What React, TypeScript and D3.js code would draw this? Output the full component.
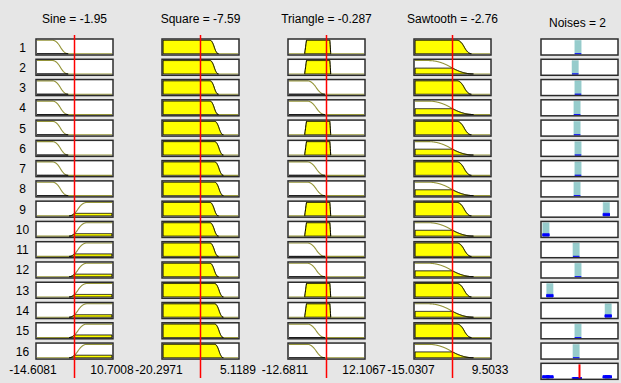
import React from 'react';
import * as d3 from 'd3';

type MF = { type: 'zmf' | 'smf' | 'trapmf'; params: number[] };

// ---- data ----
const inputNames = ['Sine', 'Square', 'Triangle', 'Sawtooth'];
const inputValues = [-1.95, -7.59, -0.287, -2.76];
const inputValueLabels = ['-1.95', '-7.59', '-0.287', '-2.76'];
const inputMins = [-14.6081, -20.2971, -12.6811, -15.0307];
const inputMaxs = [10.7008, 5.1189, 12.1067, 9.5033];
const inputMinLabels = ['-14.6081', '-20.2971', '-12.6811', '-15.0307'];
const inputMaxLabels = ['10.7008', '5.1189', '12.1067', '9.5033'];

const sineMFs: MF[] = [
  { type: 'zmf', params: [-9.35, -4.09] },
  { type: 'smf', params: [-3.76, 2.15] },
];
const squareMFs: MF[] = [
  { type: 'zmf', params: [-4.4, -1.5] },
  { type: 'zmf', params: [-2.8, 0.15] },
];
const triangleMFs: MF[] = [
  { type: 'trapmf', params: [-7.5, -6.9, 0.8, 1.1] },
  { type: 'zmf', params: [-6.6, -0.8] },
];
const sawtoothMFs: MF[] = [
  { type: 'zmf', params: [-1.3, 3.4] },
  { type: 'zmf', params: [-10.57, 4.08] },
];

const ruleNumbers = [1, 2, 3, 4, 5, 6, 7, 8, 9, 10, 11, 12, 13, 14, 15, 16];
const sineRuleMF = [1, 1, 1, 1, 1, 1, 1, 1, 2, 2, 2, 2, 2, 2, 2, 2];
const squareRuleMF = [1, 1, 1, 1, 2, 2, 2, 2, 1, 1, 1, 1, 2, 2, 2, 2];
const triangleRuleMF = [1, 1, 2, 2, 1, 1, 2, 2, 1, 1, 2, 2, 1, 1, 2, 2];
const sawtoothRuleMF = [1, 2, 1, 2, 1, 2, 1, 2, 1, 2, 1, 2, 1, 2, 1, 2];

const outputName = 'Noises';
const outputValue = 2;
const outputValueLabel = '2';
const outputMin = 0;
const outputMax = 4;
const outputCenters = [1.92, 1.77, 1.92, 1.87, 1.87, 1.92, 1.92, 1.87, 3.43, 0.21, 1.82, 1.92, 0.42, 3.53, 1.92, 1.82];
const outputShoulder = 0.17;
const outputFoot = 0.18;

// ---- layout ----
const W = 621;
const H = 383;
const boxLefts = [36, 162, 288, 414, 541];
const boxW = 77;
const FONT = '"Liberation Sans", Arial, sans-serif';
const BG = '#e6e6e6';
const OLIVE = '#95953a';
const CYAN = '#96cccc';

function evalMF(mf: MF, x: number): number {
  const p = mf.params;
  if (mf.type === 'trapmf') {
    const [a, b, c, d] = p;
    return Math.max(0, Math.min((x - a) / (b - a), 1, (d - x) / (d - c)));
  }
  const [a, b] = p;
  let z: number;
  if (x <= a) z = 1;
  else if (x >= b) z = 0;
  else if (x <= (a + b) / 2) z = 1 - 2 * ((x - a) / (b - a)) ** 2;
  else z = 2 * ((b - x) / (b - a)) ** 2;
  return mf.type === 'zmf' ? z : 1 - z;
}

function sampleXs(min: number, max: number, mf: MF): number[] {
  const n = 400;
  const xs = d3.range(n + 1).map((i) => min + ((max - min) * i) / n);
  mf.params.forEach((v) => {
    if (v > min && v < max) xs.push(v);
  });
  return xs.sort((a, b) => a - b);
}

function clippedPoints(xs: number[], mf: MF, level: number, pad = true): [number, number][] {
  const vals = xs.map((x) => evalMF(mf, x));
  let first = vals.findIndex((v) => v > 1e-9);
  if (first < 0) return [];
  let last = vals.length - 1;
  while (last > 0 && vals[last] <= 1e-9) last--;
  if (pad) {
    first = Math.max(0, first - 1);
    last = Math.min(vals.length - 1, last + 1);
  }
  const pts: [number, number][] = [];
  for (let i = first; i <= last; i++) pts.push([xs[i], Math.min(vals[i], level)]);
  return pts;
}

export default function App() {
  const rows = d3
    .scaleBand<number>()
    .domain(d3.range(1, 18))
    .range([39, 39 + 20.27 * (17 - 0.21)])
    .paddingInner(0.21)
    .paddingOuter(0);
  const bh = rows.bandwidth();

  const mfSets = [sineMFs, squareMFs, triangleMFs, sawtoothMFs];
  const ruleIdx = [sineRuleMF, squareRuleMF, triangleRuleMF, sawtoothRuleMF];
  const xScales = inputNames.map((_, j) =>
    d3.scaleLinear().domain([inputMins[j], inputMaxs[j]]).range([boxLefts[j] + 1, boxLefts[j] + boxW - 1])
  );
  const outX = d3.scaleLinear().domain([outputMin, outputMax]).range([boxLefts[4] + 1, boxLefts[4] + boxW - 1]);

  const degrees = inputNames.map((_, j) =>
    ruleNumbers.map((_, r) => evalMF(mfSets[j][ruleIdx[j][r] - 1], inputValues[j]))
  );
  const firing = ruleNumbers.map((_, r) => Math.min(...degrees.map((d) => d[r])));
  const outMFs: MF[] = outputCenters.map((c) => ({
    type: 'trapmf',
    params: [c - outputFoot, c - outputShoulder, c + outputShoulder, c + outputFoot],
  }));

  const yFor = (row: number) => {
    const top = rows(row)!;
    return d3.scaleLinear().domain([0, 1]).range([top + bh - 1.3, top + 1.3]);
  };

  const cells: React.ReactNode[] = [];
  ruleNumbers.forEach((rn, r) => {
    const y = yFor(rn);
    inputNames.forEach((_, j) => {
      const mf = mfSets[j][ruleIdx[j][r] - 1];
      const x = xScales[j];
      const xs = sampleXs(inputMins[j], inputMaxs[j], mf);
      const line = d3
        .line<number>()
        .x((v) => x(v))
        .y((v) => y(evalMF(mf, v)))(xs);
      const pts = clippedPoints(xs, mf, degrees[j][r]);
      const area = d3
        .area<[number, number]>()
        .x((d) => x(d[0]))
        .y0(y(0))
        .y1((d) => y(d[1]))(pts);
      cells.push(
        <g key={`c${r}-${j}`}>
          <rect x={boxLefts[j]} y={rows(rn)} width={boxW} height={bh} fill="#fff" />
          <path d={line || ''} fill="none" stroke={OLIVE} strokeWidth={1.1} />
          {pts.length > 0 && <path d={area || ''} fill="#ffff00" stroke="#000" strokeWidth={1} />}
          <rect x={boxLefts[j]} y={rows(rn)} width={boxW} height={bh} fill="none" stroke="#2b2b2b" strokeWidth={1.5} />
        </g>
      );
    });
    // output cell
    const mf = outMFs[r];
    const xs = sampleXs(outputMin, outputMax, mf);
    const full = clippedPoints(xs, mf, 1, false);
    const clip = clippedPoints(xs, mf, firing[r], false);
    const areaGen = d3
      .area<[number, number]>()
      .x((d) => outX(d[0]))
      .y0(y(0))
      .y1((d) => y(d[1]));
    cells.push(
      <g key={`o${r}`}>
        <rect x={boxLefts[4]} y={rows(rn)} width={boxW} height={bh} fill="#fff" />
        <path d={areaGen(full) || ''} fill={CYAN} stroke={CYAN} strokeWidth={0.5} />
        <path d={areaGen(clip) || ''} fill="#0000ff" stroke="#0000ff" strokeWidth={1} />
        <rect x={boxLefts[4]} y={rows(rn)} width={boxW} height={bh} fill="none" stroke="#2b2b2b" strokeWidth={1.5} />
      </g>
    );
  });

  // aggregate output cell
  const yAgg = yFor(17);
  const aggAreas = ruleNumbers.map((_, r) => {
    const mf = outMFs[r];
    const xs = sampleXs(outputMin, outputMax, mf);
    const clip = clippedPoints(xs, mf, firing[r]);
    return d3
      .area<[number, number]>()
      .x((d) => outX(d[0]))
      .y0(yAgg(0))
      .y1((d) => yAgg(d[1]))(clip);
  });

  return (
    <svg
      width={W}
      height={H}
      viewBox={`0 0 ${W} ${H}`}
      style={{ position: 'absolute', left: 0, top: 0, display: 'block' }}
      fontFamily={FONT}
    >
      <rect width={W} height={H} fill={BG} />
      {inputNames.map((name, j) => (
        <text key={`t${j}`} x={boxLefts[j] + boxW / 2} y={23} fontSize={12} textAnchor="middle" fill="#000">
          {`${name} = ${inputValueLabels[j]}`}
        </text>
      ))}
      <text x={boxLefts[4] + boxW / 2 - 2} y={27} fontSize={12} textAnchor="middle" fill="#000">
        {`${outputName} = ${outputValueLabel}`}
      </text>
      {ruleNumbers.map((rn) => (
        <text key={`r${rn}`} x={22.5} y={rows(rn)! + bh / 2 + 4.5} fontSize={12} textAnchor="middle" fill="#000">
          {rn}
        </text>
      ))}
      {cells}
      <g>
        <rect x={boxLefts[4]} y={rows(17)} width={boxW} height={bh} fill="#fff" />
        {aggAreas.map((d, i) => (
          <path key={`a${i}`} d={d || ''} fill="#0000ff" stroke="#0000ff" strokeWidth={1} />
        ))}
        <line
          x1={outX(outputValue)}
          x2={outX(outputValue)}
          y1={rows(17)! + 1}
          y2={rows(17)! + bh - 1}
          stroke="#ff0000"
          strokeWidth={2}
        />
        <rect x={boxLefts[4]} y={rows(17)} width={boxW} height={bh} fill="none" stroke="#2b2b2b" strokeWidth={1.5} />
      </g>
      {inputNames.map((_, j) => (
        <g key={`l${j}`}>
          <text x={boxLefts[j] - 3} y={374} fontSize={12} textAnchor="middle" fill="#000">
            {inputMinLabels[j]}
          </text>
          <text x={boxLefts[j] + boxW - 1} y={374} fontSize={12} textAnchor="middle" fill="#000">
            {inputMaxLabels[j]}
          </text>
        </g>
      ))}
      {inputNames.map((_, j) => (
        <line
          key={`v${j}`}
          x1={xScales[j](inputValues[j])}
          x2={xScales[j](inputValues[j])}
          y1={35}
          y2={378}
          stroke="#ff0000"
          strokeWidth={1.5}
        />
      ))}
    </svg>
  );
}
